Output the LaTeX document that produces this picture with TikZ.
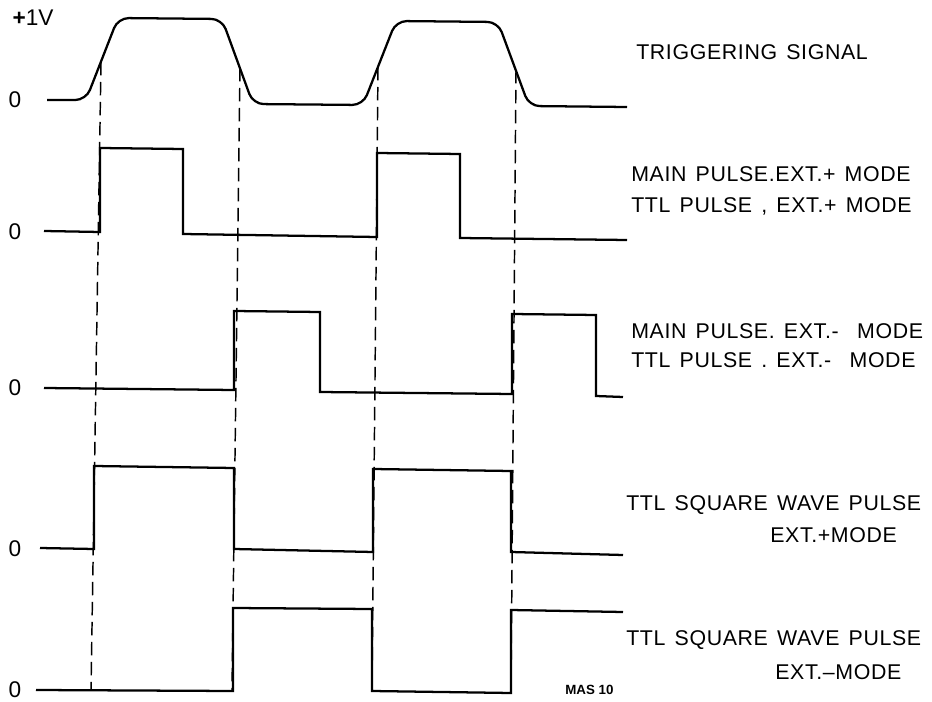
\documentclass[tikz,border=0pt]{standalone}
\usepackage{fontspec}
\setmainfont{Liberation Sans}
\newfontfamily\capfont[LetterSpace=3,WordSpace=1.4]{Liberation Sans}
\usetikzlibrary{positioning}

\begin{document}
\begin{tikzpicture}[x=0.75pt,y=-0.75pt,line join=miter,
	trace/.style={line width=1.7pt},
	guide/.style={line width=1.1pt,dash pattern=on 10pt off 5pt},
	lbl/.style={anchor=west,inner sep=0pt,font=\capfont\fontsize{16}{18}\selectfont},
	lvl/.style={inner sep=0pt,font=\fontsize{17}{18}\selectfont}]
	\useasboundingbox (0,0) rectangle (932,702);
	% level marks
	\node[lvl] (V1) at (33,18) {\textbf{+}1V};
	\node[lvl] (Z1) at (15,100) {0};
	\node[lvl] (Z2) at (15,232) {0};
	\node[lvl] (Z3) at (15,388) {0};
	\node[lvl] (Z4) at (15,549) {0};
	\node[lvl] (Z5) at (15,690) {0};
	% triggering signal
	\draw[trace,rounded corners=8pt] (47,100) -- (86,100) -- (118,18) -- (222,19) -- (253,104)
		-- (363,105) -- (396,21) -- (498,22) -- (529,106) -- (627,107);
	\coordinate (TA) at (101,62);
	\coordinate (TB) at (240,68);
	\coordinate (TC) at (378,67);
	\coordinate (TD) at (516,70);
	% pulses
	\draw[trace] (44,231) -- (100,232) -- (100,148) -- (183,149) -- (183,234) -- (377,237)
		-- (377,153) -- (460,154) -- (460,238) -- (627,240);
	\draw[trace] (44,388) -- (234,390) -- (234,311) -- (320,312) -- (320,392) -- (512,394)
		-- (512,314) -- (596,315) -- (596,396) -- (623,397);
	\draw[trace] (40,548) -- (94,549) -- (94,466) -- (234,468) -- (234,549) -- (373,552)
		-- (373,469) -- (511,471) -- (511,552) -- (623,555);
	\draw[trace] (36,690) -- (233,691) -- (233,608) -- (372,609) -- (372,691) -- (511,693)
		-- (511,610) -- (623,612);
	% timing lines
	\draw[guide] (TA) -- (91,690);
	\draw[guide] (TB) -- (232,690);
	\draw[guide] (TC) -- (372,690);
	\draw[guide] (TD) -- (511,692);
	% captions
	\node[lbl] (trig) at (636,52) {TRIGGERING SIGNAL};
	\node[lbl] (mainp) at (631,174) {MAIN PULSE.EXT.+ MODE};
	\node[lbl] (ttlp) at (631,206) {TTL PULSE , EXT.+ MODE};
	\node[lbl] (mainm) at (631,331) {MAIN PULSE. EXT.-\ \ MODE};
	\node[lbl] (ttlm) at (631,360) {TTL PULSE . EXT.-\ \ MODE};
	\node[lbl] (sqp) at (626,505) {TTL SQUARE WAVE PULSE};
	\node[lbl] (sqpm) at (770,535) {EXT.+MODE};
	\node[lbl] (sqm) at (626,640) {TTL SQUARE WAVE PULSE};
	\node[lbl] (sqmm) at (775,672) {EXT.\textendash MODE};
	\node[anchor=west,inner sep=0pt,font=\fontsize{10}{12}\selectfont\bfseries] (mas) at (565,690) {MAS 10};
\end{tikzpicture}
\end{document}
